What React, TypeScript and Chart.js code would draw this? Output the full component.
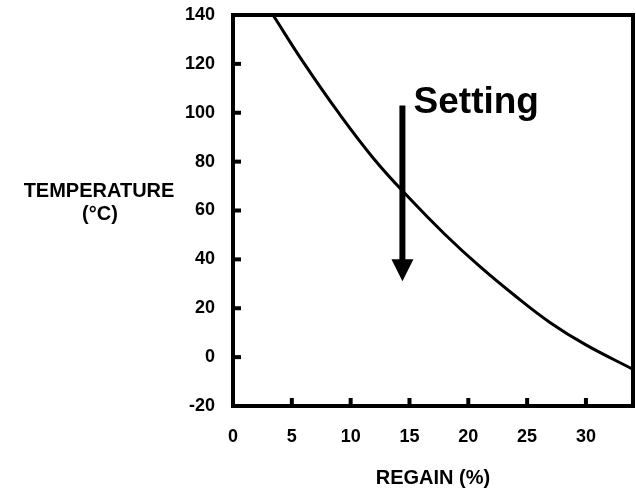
import React, { useEffect, useRef } from "react";
import { Chart, registerables } from "chart.js";

Chart.register(...registerables);

const regainValues = [3.4, 6, 9, 12, 15, 18, 21, 24, 27, 30, 34];
const temperatureValues = [140, 120.5, 99.8, 81, 65, 50.3, 37, 25, 14, 5, -5];

const xMin = 0;
const xMax = 34;
const xStep = 5;
const yMin = -20;
const yMax = 140;
const yStep = 20;

const arrowX = [14.4];
const arrowFromTo = [103, 31];
const annotationText = "Setting";
const annotationPos = [15.35, 100];

const xTitle = "REGAIN (%)";
const yTitleLines = ["TEMPERATURE", "(°C)"];

const FONT = "'Liberation Sans', Arial, Helvetica, sans-serif";

export default function App() {
  const canvasRef = useRef<HTMLCanvasElement | null>(null);

  useEffect(() => {
    const canvas = canvasRef.current;
    if (!canvas) return;

    const decorPlugin = {
      id: "decor",
      afterDraw(chart: any) {
        const { ctx, chartArea } = chart;
        const xs = chart.scales.x;
        const ys = chart.scales.y;
        ctx.save();
        ctx.strokeStyle = "#000";
        ctx.fillStyle = "#000";
        // frame
        ctx.lineWidth = 4;
        ctx.strokeRect(chartArea.left, chartArea.top, chartArea.right - chartArea.left, chartArea.bottom - chartArea.top);
        // inward ticks
        ctx.lineWidth = 4;
        ctx.lineCap = "butt";
        for (const t of ys.ticks) {
          const py = ys.getPixelForValue(t.value);
          ctx.beginPath();
          ctx.moveTo(chartArea.left, py);
          ctx.lineTo(chartArea.left + 8, py);
          ctx.stroke();
        }
        for (const t of xs.ticks) {
          const px = xs.getPixelForValue(t.value);
          ctx.beginPath();
          ctx.moveTo(px, chartArea.bottom);
          ctx.lineTo(px, chartArea.bottom - 8);
          ctx.stroke();
        }
        // arrow
        const ax = xs.getPixelForValue(arrowX[0]);
        const ay0 = ys.getPixelForValue(arrowFromTo[0]);
        const ay1 = ys.getPixelForValue(arrowFromTo[1]);
        const headH = 22;
        const headW = 22;
        ctx.lineWidth = 6;
        ctx.beginPath();
        ctx.moveTo(ax, ay0);
        ctx.lineTo(ax, ay1 - headH + 1);
        ctx.stroke();
        ctx.beginPath();
        ctx.moveTo(ax - headW / 2, ay1 - headH);
        ctx.lineTo(ax + headW / 2, ay1 - headH);
        ctx.lineTo(ax, ay1);
        ctx.closePath();
        ctx.fill();
        // annotation text
        ctx.font = `bold 37px ${FONT}`;
        ctx.textAlign = "left";
        ctx.textBaseline = "alphabetic";
        ctx.fillText(annotationText, xs.getPixelForValue(annotationPos[0]), ys.getPixelForValue(annotationPos[1]));
        // y title
        ctx.font = `bold 20px ${FONT}`;
        ctx.textAlign = "center";
        ctx.textBaseline = "middle";
        const mid = (chartArea.top + chartArea.bottom) / 2;
        const cx = chartArea.left - 134;
        ctx.fillText(yTitleLines[0], cx, mid - 19);
        ctx.fillText(yTitleLines[1], cx + 1, mid + 4);
        ctx.restore();
      },
    };

    const chart = new Chart(canvas, {
      type: "line",
      data: {
        datasets: [
          {
            data: regainValues.map((x, i) => ({ x, y: temperatureValues[i] })),
            borderColor: "#000",
            borderWidth: 3,
            pointRadius: 0,
            fill: false,
            tension: 0.4,
          },
        ],
      },
      options: {
        responsive: false,
        animation: false,
        layout: { padding: { top: 15, right: 3, left: 0, bottom: 0 } },
        plugins: {
          legend: { display: false },
          tooltip: { enabled: false },
        },
        scales: {
          x: {
            type: "linear",
            min: xMin,
            max: xMax,
            grid: { display: false },
            border: { display: false },
            ticks: {
              stepSize: xStep,
              includeBounds: false,
              color: "#000",
              padding: 12,
              maxRotation: 0,
              font: { family: FONT, size: 18, weight: "bold" },
            },
            title: {
              display: true,
              text: xTitle,
              color: "#000",
              font: { family: FONT, size: 20, weight: "bold" },
              padding: { top: 0, bottom: -1 },
            },
            afterFit(scale: any) {
              scale.height = 83;
              scale.paddingLeft = 0;
              scale.paddingRight = 0;
            },
          },
          y: {
            type: "linear",
            min: yMin,
            max: yMax,
            grid: { display: false },
            border: { display: false },
            ticks: {
              stepSize: yStep,
              color: "#000",
              padding: 10,
              font: { family: FONT, size: 18, weight: "bold" },
            },
            afterFit(scale: any) {
              scale.width = 233;
              scale.paddingTop = 0;
              scale.paddingBottom = 0;
            },
          },
        },
      },
      plugins: [decorPlugin],
    } as any);

    return () => chart.destroy();
  }, []);

  return (
    <div style={{ position: "fixed", left: 0, top: 0, width: 636, height: 489, background: "#fff" }}>
      <canvas ref={canvasRef} width={636} height={489} />
    </div>
  );
}
